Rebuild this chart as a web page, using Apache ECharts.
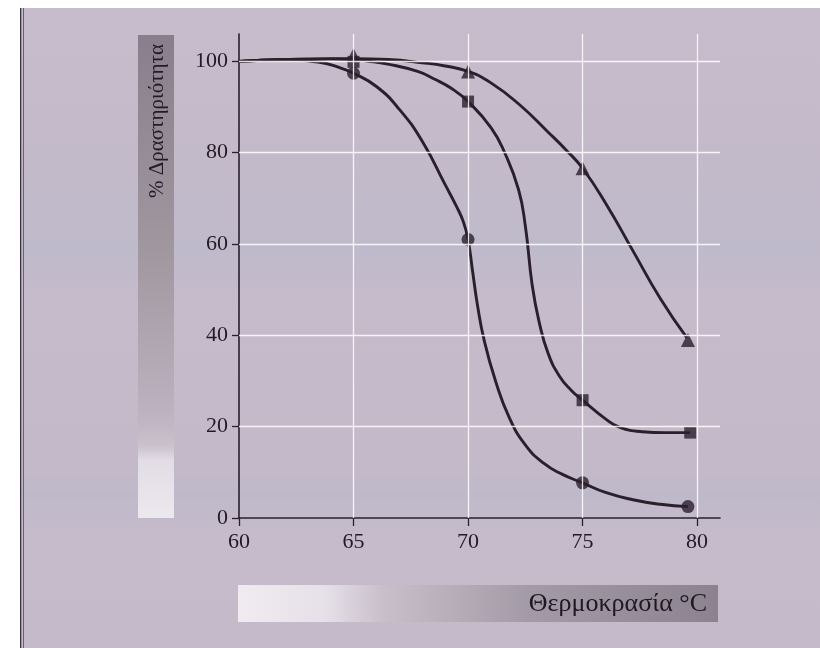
<!DOCTYPE html>
<html>
<head>
<meta charset="utf-8">
<script src="https://cdn.jsdelivr.net/npm/echarts@6/dist/echarts.min.js"></script>
<style>
html,body{margin:0;padding:0;background:#fff;}
#chart{width:820px;height:648px;}
</style>
</head>
<body>
<div id="chart"></div>
<script>
// ---- data ----
const xTicks = [60, 65, 70, 75, 80];
const yTicks = [0, 20, 40, 60, 80, 100];
const xLabel = 'Θερμοκρασία °C';
const yLabel = '% Δραστηριότητα';

// measured points (markers)
const circleTemps   = [65, 70, 75, 79.6];
const circleVals    = [97.4, 61, 7.7, 2.5];
const squareTemps   = [65, 70, 75, 79.7];
const squareVals    = [99.9, 91.2, 25.8, 18.7];
const triangleTemps = [65, 70, 75, 79.6];
const triangleVals  = [101.4, 97.8, 76.6, 39];

// traced fitted curves
const circleCurveT = [60, 62, 63.5, 64.3, 65, 66, 67, 68, 69, 69.5, 69.8, 70, 70.2, 70.4, 70.7, 71.2, 71.8, 72.5, 73.3, 74.1, 75, 76, 77.2, 78.4, 79.6];
const circleCurveV = [100, 100.3, 99.8, 98.8, 97.4, 94.5, 89.5, 82.5, 73, 68.2, 64.8, 61, 54, 47, 39, 30, 22, 16, 12, 9.6, 7.7, 5.6, 4, 3, 2.5];
const squareCurveT = [60, 62, 64, 65, 65.6, 66.5, 67.8, 68.5, 69.3, 70, 71, 71.6, 72.2, 72.5, 72.8, 73.1, 73.5, 74, 74.5, 75, 76, 76.6, 77.6, 78.6, 79.7];
const squareCurveV = [100, 100.4, 100.5, 100.4, 100.1, 99.4, 97.8, 96.2, 94, 91.2, 85.5, 80, 72, 64, 51, 43, 36, 31, 28, 25.8, 21.7, 19.9, 18.9, 18.7, 18.7];
const triangleCurveT = [60, 62, 64, 65, 66.5, 68, 69, 70, 71, 72.25, 73.5, 74.3, 75, 76, 77.2, 78.4, 79.55];
const triangleCurveV = [100, 100.4, 100.6, 100.6, 100.4, 99.7, 99, 97.8, 95.3, 90.5, 84.5, 80.5, 76.6, 69, 58.5, 48, 39.5];

// ---- helpers ----
const zip = (a, b) => a.map((v, i) => [v, b[i]]);
const INK = '#2a1f2d';
const SERIF = '"Liberation Serif", "DejaVu Serif", serif';
const X_MIN = 60, X_MAX = 81, Y_MIN = 0, Y_MAX = 106;

const gridLines = [];
yTicks.filter(v => v > Y_MIN).forEach(v => gridLines.push([{coord: [X_MIN, v]}, {coord: [X_MAX, v]}]));
xTicks.filter(v => v > X_MIN).forEach(v => gridLines.push([{coord: [v, Y_MIN]}, {coord: [v, Y_MAX]}]));

const chart = echarts.init(document.getElementById('chart'), null, {renderer: 'canvas'});

const lineSeries = (name, t, v) => ({
  name, type: 'line', data: zip(t, v), showSymbol: false, smooth: 0.5,
  lineStyle: {color: INK, width: 2.9}, z: 3, silent: true
});
const markSeries = (name, t, v, symbol, size) => ({
  name, type: 'scatter', data: zip(t, v), symbol, symbolSize: size,
  itemStyle: {color: INK}, z: 4, silent: true
});

chart.setOption({
  backgroundColor: '#ffffff',
  animation: false,
  graphic: [
    {type: 'rect', shape: {x: 22, y: 8, width: 798, height: 640}, z: -100,
     style: {fill: new echarts.graphic.LinearGradient(0, 0, 0, 1, [
       {offset: 0, color: '#c6bccb'}, {offset: 0.2, color: '#c4bac9'},
       {offset: 0.38, color: '#bfbacb'}, {offset: 0.46, color: '#c5bbcb'},
       {offset: 0.72, color: '#c3b9c9'}, {offset: 0.76, color: '#beb9ca'},
       {offset: 0.82, color: '#c5bbca'}, {offset: 1, color: '#c4bac9'}])}},
    {type: 'rect', shape: {x: 20, y: 8, width: 1.5, height: 640}, z: -90, style: {fill: '#3a3040'}},
    {type: 'rect', shape: {x: 23, y: 8, width: 1, height: 640}, z: -90, style: {fill: '#6a6070'}},
    // y label band
    {type: 'rect', shape: {x: 138, y: 35, width: 36, height: 483}, z: -80,
     style: {fill: new echarts.graphic.LinearGradient(0, 0, 0, 1, [
       {offset: 0, color: '#877f8c'}, {offset: 0.45, color: '#a0979f'},
       {offset: 0.78, color: '#bcb2c0'}, {offset: 0.85, color: '#c9c1cc'},
       {offset: 0.88, color: '#e2dde4'}, {offset: 1, color: '#ece8ee'}])}},
    {type: 'text', x: 157, y: 44, rotation: Math.PI / 2, z: -70,
     style: {text: yLabel, font: '21px ' + SERIF, fill: '#241a27', align: 'right', verticalAlign: 'middle'}},
    // x label band
    {type: 'rect', shape: {x: 238, y: 585, width: 480, height: 37}, z: -80,
     style: {fill: new echarts.graphic.LinearGradient(0, 0, 1, 0, [
       {offset: 0, color: '#efebf0'}, {offset: 0.18, color: '#e6e1e8'},
       {offset: 0.3, color: '#c8bfcb'}, {offset: 0.6, color: '#a49ba8'},
       {offset: 1, color: '#8b838f'}])}},
    {type: 'text', x: 707, y: 604, z: -70,
     style: {text: xLabel, font: '26px ' + SERIF, fill: '#1f1822', align: 'right', verticalAlign: 'middle'}}
  ],
  grid: {left: 239, right: 100, top: 34, bottom: 130, containLabel: false},
  xAxis: {
    type: 'value', min: X_MIN, max: X_MAX, interval: 5,
    axisLine: {show: true, lineStyle: {color: INK, width: 1.6}},
    axisTick: {show: true, length: 8, inside: false, customValues: xTicks, lineStyle: {color: INK, width: 1.3}},
    axisLabel: {customValues: xTicks, color: '#241a27', fontFamily: SERIF, fontSize: 22, margin: 13},
    splitLine: {show: false}
  },
  yAxis: {
    type: 'value', min: Y_MIN, max: Y_MAX, interval: 20,
    axisLine: {show: true, lineStyle: {color: INK, width: 1.6}},
    axisTick: {show: true, length: 7, inside: false, customValues: yTicks, lineStyle: {color: INK, width: 1.3}},
    axisLabel: {customValues: yTicks, color: '#241a27', fontFamily: SERIF, fontSize: 22, margin: 11},
    splitLine: {show: false}
  },
  series: [
    {type: 'line', data: [], silent: true, z: 1,
     markLine: {silent: true, symbol: ['none', 'none'], label: {show: false}, animation: false,
       lineStyle: {color: 'rgba(255,255,255,0.85)', width: 1.3, type: 'solid'}, data: gridLines}},
    lineSeries('circle curve', circleCurveT, circleCurveV),
    lineSeries('square curve', squareCurveT, squareCurveV),
    lineSeries('triangle curve', triangleCurveT, triangleCurveV),
    markSeries('circles', circleTemps, circleVals, 'circle', 13),
    markSeries('squares', squareTemps, squareVals, 'rect', 12),
    markSeries('triangles', triangleTemps, triangleVals, 'triangle', 14)
  ]
});
</script>
</body>
</html>
